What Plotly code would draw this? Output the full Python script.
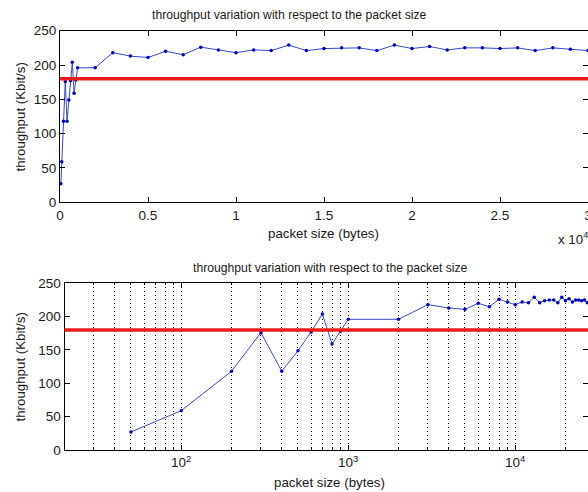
import plotly.graph_objects as go
import math

# ---- data ----
packet_size = [50, 100, 200, 300, 400, 500, 600, 700, 800, 900,
               1000, 2000, 3000, 4000, 5000, 6000, 7000, 8000, 9000, 10000,
               11000, 12000, 13000, 14000, 15000, 16000, 17000, 18000, 19000, 20000,
               21000, 22000, 23000, 24000, 25000, 26000, 27000, 28000, 29000, 30000]
throughput = [27, 59, 118, 176, 118, 149, 177, 204, 159, 178,
              196, 196, 218, 213, 211, 220, 215, 226, 222, 218,
              222, 221, 229, 221, 224, 225, 225, 221, 229, 224,
              227, 222, 225, 225, 224, 225, 221, 225, 223, 221]
threshold = 180

top_xticks = [0, 5000, 10000, 15000, 20000, 25000, 30000]
top_xticklabels = ["0", "0.5", "1", "1.5", "2", "2.5", "3"]
y_ticks = [0, 50, 100, 150, 200, 250]
log_major = [100, 1000, 10000]
log_major_labels = ["10<sup>2</sup>", "10<sup>3</sup>", "10<sup>4</sup>"]
log_minor = [30, 40, 50, 60, 70, 80, 90, 200, 300, 400, 500, 600, 700, 800, 900,
             2000, 3000, 4000, 5000, 6000, 7000, 8000, 9000, 20000]

title_text = "throughput variation with respect to the packet size"
xlabel = "packet size (bytes)"
ylabel = "throughput (Kbit/s)"

W, H = 588, 492
FONT = "Liberation Sans, Arial, Helvetica, sans-serif"
TXT = "#1a1a1a"

def px(x):
    return x / W

def py(y):
    return 1 - y / H

line_style = dict(color="#3848c8", width=1)
marker_style = dict(color="#0000bb", size=3.5)

fig = go.Figure()
fig.add_trace(go.Scatter(x=packet_size, y=throughput, mode="lines+markers",
                         line=line_style, marker=marker_style,
                         xaxis="x", yaxis="y", showlegend=False, cliponaxis=True))
fig.add_trace(go.Scatter(x=packet_size, y=throughput, mode="lines+markers",
                         line=line_style, marker=marker_style,
                         xaxis="x2", yaxis="y2", showlegend=False, cliponaxis=True))

for xr, yr in (("x domain", "y"), ("x2 domain", "y2")):
    fig.add_shape(type="line", xref=xr, yref=yr, x0=0, x1=1, y0=threshold, y1=threshold,
                  line=dict(color="#ee1c1c", width=3.5))

axis_common = dict(showline=True, linecolor="black", linewidth=1, mirror="ticks",
                   ticks="inside", ticklen=5, tickcolor="black", zeroline=False,
                   automargin=False, ticklabeloverflow="allow",
                   tickfont=dict(family=FONT, size=13.5, color=TXT))

GRID_DASH = "1px,3px"

fig.update_layout(
    width=W, height=H,
    margin=dict(l=0, r=0, t=0, b=0, autoexpand=False),
    paper_bgcolor="white", plot_bgcolor="white",
    xaxis=dict(domain=[px(60), 1], range=[0, 30000], tickmode="array",
               tickvals=top_xticks, ticktext=top_xticklabels, showgrid=False,
               anchor="y", **axis_common),
    yaxis=dict(domain=[py(202.3), py(30.7)], range=[0, 250], tickmode="array",
               tickvals=y_ticks, showgrid=False, anchor="x", **axis_common),
    xaxis2=dict(domain=[px(64.5), 1], type="log",
                range=[math.log10(20), math.log10(20) + 523.5 / 167.0],
                tickmode="array", tickvals=log_major, ticktext=log_major_labels,
                showgrid=True, gridcolor="black", griddash=GRID_DASH, gridwidth=1,
                minor=dict(tickmode="array", tickvals=log_minor, showgrid=True,
                           gridcolor="black", griddash=GRID_DASH, gridwidth=1,
                           ticks="inside", ticklen=2, tickcolor="black"),
                anchor="y2", **axis_common),
    yaxis2=dict(domain=[py(450), py(283.3)], range=[0, 250], tickmode="array",
                tickvals=y_ticks, showgrid=False, anchor="x2", **axis_common),
)

title_font = dict(family=FONT, size=12.2, color=TXT)
label_font = dict(family=FONT, size=13.3, color=TXT)
annotations = [
    dict(text=title_text, x=px(289), y=py(15), xanchor="center", yanchor="middle", font=title_font),
    dict(text=title_text, x=px(330), y=py(268), xanchor="center", yanchor="middle", font=title_font),
    dict(text=xlabel, x=px(324), y=py(233), xanchor="center", yanchor="middle", font=label_font),
    dict(text=xlabel, x=px(329), y=py(482), xanchor="center", yanchor="middle", font=label_font),
    dict(text=ylabel, x=px(19.5), y=py(117), xanchor="center", yanchor="middle", textangle=-90, font=label_font),
    dict(text=ylabel, x=px(19.5), y=py(367), xanchor="center", yanchor="middle", textangle=-90, font=label_font),
    dict(text="x 10<sup>4</sup>", x=px(556), y=py(238), xanchor="left", yanchor="middle", font=label_font),
]
for a in annotations:
    fig.add_annotation(xref="paper", yref="paper", showarrow=False, **a)

fig.write_html("out.html")
